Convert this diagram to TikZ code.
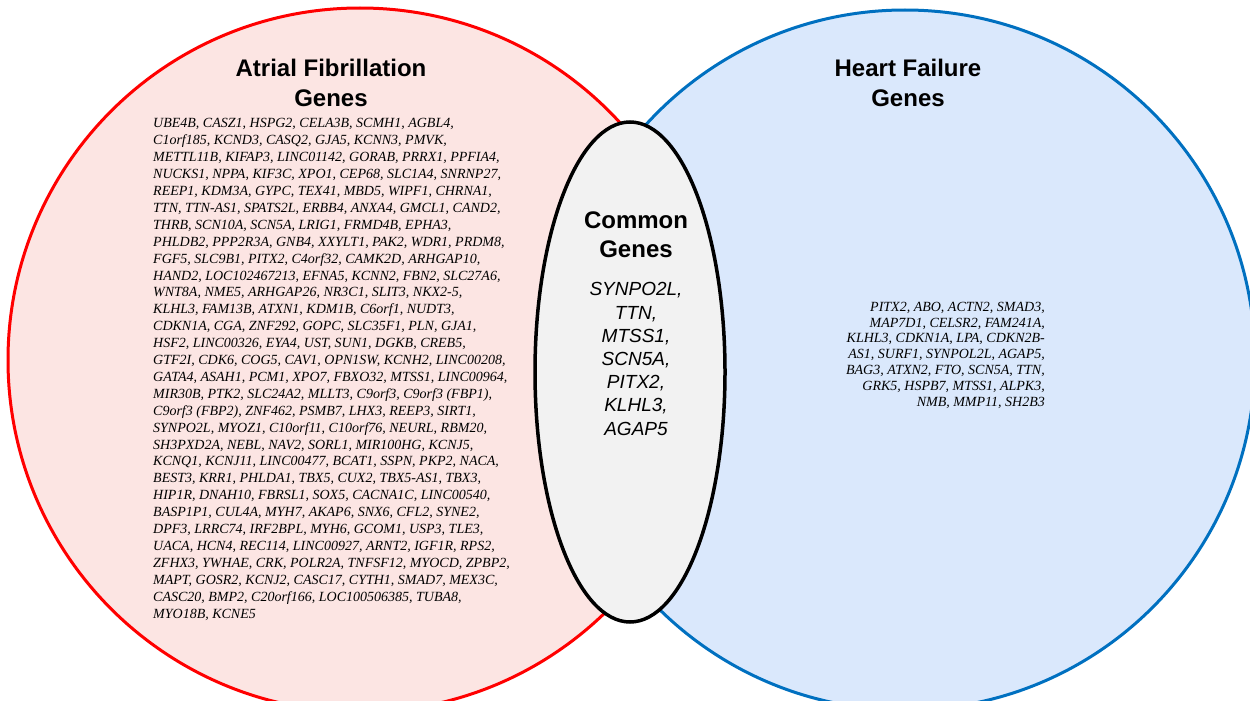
\documentclass[tikz,border=0pt]{standalone}
\usepackage{fontspec}
\setmainfont{Liberation Serif}
\setsansfont{Liberation Sans}
\definecolor{afline}{RGB}{255,0,0}
\definecolor{affill}{RGB}{252,229,227}
\definecolor{hfline}{RGB}{0,112,192}
\definecolor{hffill}{RGB}{218,232,252}
\definecolor{cmfill}{RGB}{242,242,242}
\begin{document}
\begin{tikzpicture}[x=1pt,y=-1pt,
  title/.style={font={\sffamily\bfseries\fontsize{24}{29}\selectfont}, align=center, inner sep=0pt, anchor=base},
  genes/.style={font={\itshape\fontsize{14}{16.9}\selectfont}, inner sep=0pt},
  rgenes/.style={font={\itshape\fontsize{14}{15.8}\selectfont}, inner sep=0pt},
  common/.style={font={\sffamily\itshape\fontsize{19}{23.2}\selectfont}, align=center, inner sep=0pt, anchor=base}]
\useasboundingbox (0,0) rectangle (1250,701);
\begin{scope}
\clip (0,0) rectangle (1250,701);
\draw[afline, fill=affill, line width=3pt] (360,360) circle (352);
\draw[hfline, fill=hffill, line width=3pt] (905,360) circle (350);
\draw[black, fill=cmfill, line width=3.5pt] (630,372) ellipse [x radius=95, y radius=250];
\end{scope}
% base anchor of a multi-line node is the baseline of its last line
\node[title] (aft) at (331,106) {Atrial Fibrillation\\Genes};
\node[title] (hft) at (908,106) {Heart Failure\\Genes};
\node[title] (cmt) at (636,257) {Common\\Genes};
\node[common] (cml) at (636,435) {SYNPO2L,\\TTN,\\MTSS1,\\SCN5A,\\PITX2,\\KLHL3,\\AGAP5};
\node[genes, align=left, anchor=base west] (afl) at (153,618) {UBE4B, CASZ1, HSPG2, CELA3B, SCMH1, AGBL4,\\
C1orf185, KCND3, CASQ2, GJA5, KCNN3, PMVK,\\
METTL11B, KIFAP3, LINC01142, GORAB, PRRX1, PPFIA4,\\
NUCKS1, NPPA, KIF3C, XPO1, CEP68, SLC1A4, SNRNP27,\\
REEP1, KDM3A, GYPC, TEX41, MBD5, WIPF1, CHRNA1,\\
TTN, TTN-AS1, SPATS2L, ERBB4, ANXA4, GMCL1, CAND2,\\
THRB, SCN10A, SCN5A, LRIG1, FRMD4B, EPHA3,\\
PHLDB2, PPP2R3A, GNB4, XXYLT1, PAK2, WDR1, PRDM8,\\
FGF5, SLC9B1, PITX2, C4orf32, CAMK2D, ARHGAP10,\\
HAND2, LOC102467213, EFNA5, KCNN2, FBN2, SLC27A6,\\
WNT8A, NME5, ARHGAP26, NR3C1, SLIT3, NKX2-5,\\
KLHL3, FAM13B, ATXN1, KDM1B, C6orf1, NUDT3,\\
CDKN1A, CGA, ZNF292, GOPC, SLC35F1, PLN, GJA1,\\
HSF2, LINC00326, EYA4, UST, SUN1, DGKB, CREB5,\\
GTF2I, CDK6, COG5, CAV1, OPN1SW, KCNH2, LINC00208,\\
GATA4, ASAH1, PCM1, XPO7, FBXO32, MTSS1, LINC00964,\\
MIR30B, PTK2, SLC24A2, MLLT3, C9orf3, C9orf3 (FBP1),\\
C9orf3 (FBP2), ZNF462, PSMB7, LHX3, REEP3, SIRT1,\\
SYNPO2L, MYOZ1, C10orf11, C10orf76, NEURL, RBM20,\\
SH3PXD2A, NEBL, NAV2, SORL1, MIR100HG, KCNJ5,\\
KCNQ1, KCNJ11, LINC00477, BCAT1, SSPN, PKP2, NACA,\\
BEST3, KRR1, PHLDA1, TBX5, CUX2, TBX5-AS1, TBX3,\\
HIP1R, DNAH10, FBRSL1, SOX5, CACNA1C, LINC00540,\\
BASP1P1, CUL4A, MYH7, AKAP6, SNX6, CFL2, SYNE2,\\
DPF3, LRRC74, IRF2BPL, MYH6, GCOM1, USP3, TLE3,\\
UACA, HCN4, REC114, LINC00927, ARNT2, IGF1R, RPS2,\\
ZFHX3, YWHAE, CRK, POLR2A, TNFSF12, MYOCD, ZPBP2,\\
MAPT, GOSR2, KCNJ2, CASC17, CYTH1, SMAD7, MEX3C,\\
CASC20, BMP2, C20orf166, LOC100506385, TUBA8,\\
MYO18B, KCNE5};
\node[rgenes, align=right, anchor=base east] (hfl) at (1045,406) {PITX2, ABO, ACTN2, SMAD3,\\
MAP7D1, CELSR2, FAM241A,\\
KLHL3, CDKN1A, LPA, CDKN2B-\\
AS1, SURF1, SYNPOL2L, AGAP5,\\
BAG3, ATXN2, FTO, SCN5A, TTN,\\
GRK5, HSPB7, MTSS1, ALPK3,\\
NMB, MMP11, SH2B3};
\end{tikzpicture}
\end{document}
